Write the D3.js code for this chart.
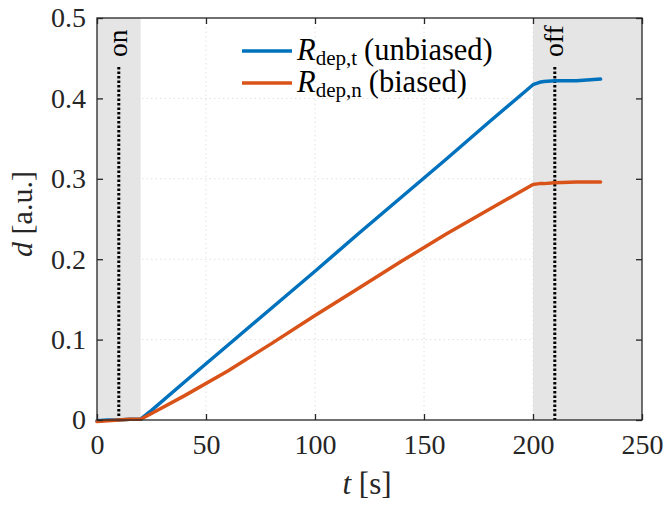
<!DOCTYPE html>
<html><head><meta charset="utf-8">
<script src="https://cdn.jsdelivr.net/npm/d3@7"></script>
<style>body{margin:0;background:#fff}svg{display:block}svg text{font-family:"Liberation Serif","Times New Roman",serif !important;fill:#262626}</style>
</head><body><svg id="c" width="664" height="506"></svg>
<script>
const time = [0,5,10,15,20,25,40,60,80,100,120,140,160,180,200,203,205,210,220,231];
const unbiased = [-0.001,0.000,0.000,0.001,0.001,0.012,0.047,0.093,0.139,0.185,0.232,0.278,0.324,0.371,0.417,0.420,0.421,0.422,0.422,0.424];
const biased = [-0.002,-0.001,0.000,0.001,0.001,0.008,0.030,0.061,0.095,0.130,0.164,0.198,0.231,0.262,0.293,0.294,0.294,0.295,0.296,0.296];
const xTicks = [0,50,100,150,200,250];
const yTicks = [0,0.1,0.2,0.3,0.4,0.5];
const shaded = [[0,20],[200,250]];
const markers = [{t:10,label:"on"},{t:210,label:"off"}];
const markerTop = 0.439;
const seriesNames = [{sub:"dep,t",desc:"(unbiased)"},{sub:"dep,n",desc:"(biased)"}];
const colors = ["#0072BD","#D95319"];

const svg = d3.select("#c");
const L=97,R=642,T=18,B=420;
const x = d3.scaleLinear().domain([0,250]).range([L,R]);
const y = d3.scaleLinear().domain([0,0.5]).range([B,T]);

svg.selectAll("rect.sh").data(shaded).join("rect")
  .attr("x",d=>x(d[0])).attr("y",T).attr("width",d=>x(d[1])-x(d[0])).attr("height",B-T)
  .attr("fill","#e5e5e5");

const g = svg.append("g");
g.selectAll("line.gx").data(xTicks.slice(1,-1)).join("line")
  .attr("x1",d=>x(d)).attr("x2",d=>x(d)).attr("y1",T).attr("y2",B)
  .attr("stroke","#e0e0e0").attr("stroke-width",1).attr("stroke-dasharray","1.5,3");
g.selectAll("line.gy").data(yTicks.slice(1,-1)).join("line")
  .attr("y1",d=>y(d)).attr("y2",d=>y(d)).attr("x1",L).attr("x2",R)
  .attr("stroke","#e0e0e0").attr("stroke-width",1).attr("stroke-dasharray","1.5,3");

markers.forEach(m=>{
  svg.append("line").attr("x1",x(m.t)).attr("x2",x(m.t)).attr("y1",y(markerTop)).attr("y2",B)
    .attr("stroke","#000").attr("stroke-width",3).attr("stroke-dasharray","2.5,2");
  svg.append("text").attr("transform",`translate(${x(m.t)+8},57) rotate(-90)`)
    .attr("font-size",27.5).style("fill","#000").text(m.label);
});

const line = d3.line().x((d,i)=>x(time[i])).y(d=>y(d));
[unbiased,biased].forEach((s,i)=>{
  svg.append("path").attr("d",line(s)).attr("fill","none").attr("stroke",colors[i])
    .attr("stroke-width",3.5).attr("stroke-linejoin","round").attr("stroke-linecap","round");
});

const ax = svg.append("g");
ax.append("rect").attr("x",L).attr("y",T).attr("width",R-L).attr("height",B-T)
  .attr("fill","none").attr("stroke","#262626").attr("stroke-width",1.3);
const xb = d3.axisBottom(x).tickValues(xTicks).tickSizeInner(-6).tickSizeOuter(0).tickPadding(14).tickFormat(d3.format("d"));
const xt = d3.axisTop(x).tickValues(xTicks).tickSizeInner(-6).tickSizeOuter(0).tickFormat("");
const yl = d3.axisLeft(y).tickValues(yTicks).tickSizeInner(-6).tickSizeOuter(0).tickPadding(11).tickFormat(d=>d===0?"0":d3.format(".1f")(d));
const yr = d3.axisRight(y).tickValues(yTicks).tickSizeInner(-6).tickSizeOuter(0).tickFormat("");
function style(sel){sel.attr("font-family",null);sel.select(".domain").remove();sel.selectAll("line").attr("stroke","#262626").attr("stroke-width",1.3);
  sel.selectAll("text").attr("font-size",28).attr("fill","#262626");}
ax.append("g").attr("transform",`translate(0,${B})`).call(xb).call(style);
ax.append("g").attr("transform",`translate(0,${T})`).call(xt).call(style);
ax.append("g").attr("transform",`translate(${L},0)`).call(yl).call(style);
ax.append("g").attr("transform",`translate(${R},0)`).call(yr).call(style);

const xl = svg.append("text").attr("x",367).attr("y",494).attr("text-anchor","middle").attr("font-size",31);
xl.append("tspan").attr("font-style","italic").text("t");
xl.append("tspan").text(" [s]");
const ylab = svg.append("text").attr("transform",`translate(32,214) rotate(-90)`).attr("text-anchor","middle").attr("font-size",30);
ylab.append("tspan").attr("font-style","italic").text("d");
ylab.append("tspan").text(" [a.u.]");

seriesNames.forEach((s,i)=>{
  const ly = 51 + i*32;
  svg.append("line").attr("x1",242).attr("x2",292).attr("y1",ly).attr("y2",ly).attr("stroke",colors[i]).attr("stroke-width",3.5);
  const t = svg.append("text").attr("x",297).attr("y",ly+9).attr("font-size",30.5).style("fill","#000");
  t.append("tspan").attr("font-style","italic").text("R");
  t.append("tspan").attr("font-size",21).attr("dy",5).text(s.sub);
  t.append("tspan").attr("dy",-5).attr("dx",7).text(s.desc);
});
</script></body></html>
